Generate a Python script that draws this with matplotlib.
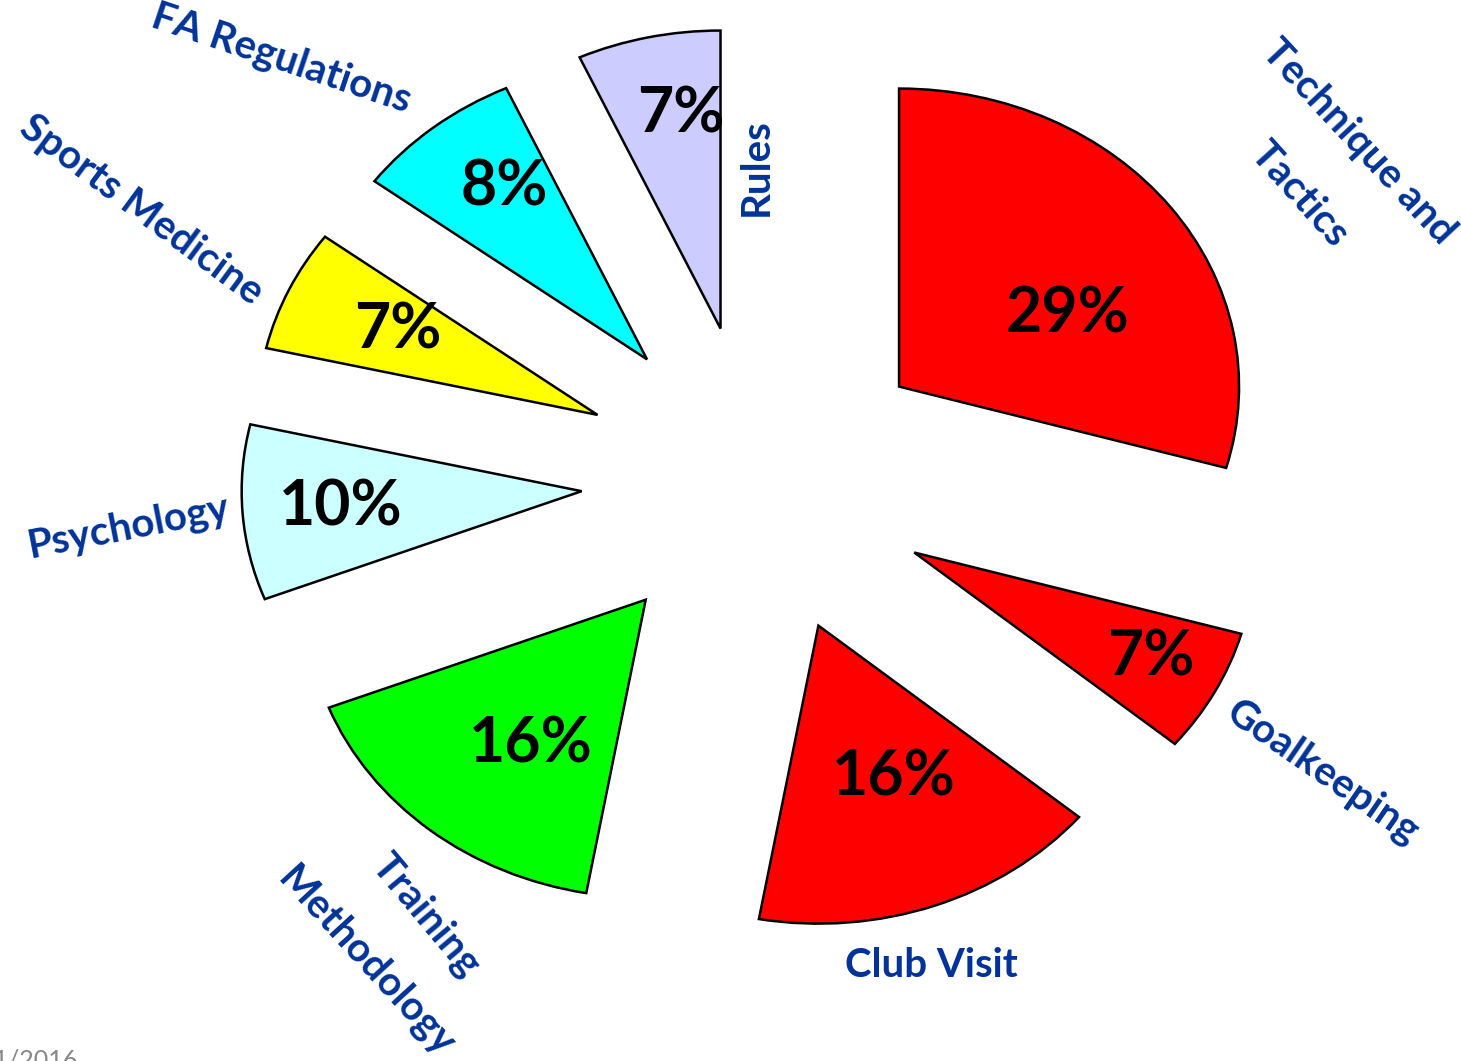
import matplotlib.pyplot as plt

# slice data, clockwise from 12 o'clock (shares measured off the wedges)
topics = ['Technique and\nTactics', 'Goalkeeping', 'Club Visit', 'Training\nMethodology',
          'Psychology', 'Sports Medicine', 'FA Regulations', 'Rules']
shares = [29.4, 6.7, 16.7, 16.3, 9.5, 6.6, 8.0, 6.8]
pct_labels = ['29%', '7%', '16%', '16%', '10%', '7%', '8%', '7%']
colors = ['#FF0000', '#FF0000', '#FF0000', '#00FF00',
          '#CCFFFF', '#FFFF00', '#00FFFF', '#CCCCFF']

# layout (data units; centre of pie at 0,0)
pct_pos = [(0.909, 0.557), (1.156, -0.594), (0.400, -0.997), (-0.668, -0.886),
           (-1.226, -0.091), (-1.059, 0.503), (-0.747, 0.980), (-0.226, 1.228)]
name_lines = [  # (text, x, y, rotation)
    ('Technique and', 1.765, 1.134, -47),
    ('Tactics', 1.591, 0.960, -48),
    ('Goalkeeping', 1.662, -0.980, -34.5),
    ('Club Visit', 0.509, -1.628, 0),
    ('Training', -0.976, -1.460, -50),
    ('Methodology', -1.153, -1.617, -47.5),
    ('Psychology', -1.850, -0.158, 11),
    ('Sports Medicine', -1.815, 0.906, -36.5),
    ('FA Regulations', -1.403, 1.413, -18.6),
    ('Rules', -0.006, 1.050, 90),
]

plt.rcParams['font.family'] = ['Lato', 'DejaVu Sans']

fig = plt.figure(figsize=(14.61, 10.61), dpi=100)
ax = fig.add_axes([0, 0, 1, 1])
ax.pie(shares, colors=colors, startangle=90, counterclock=False,
       explode=[0.52] * len(shares), radius=1.0,
       wedgeprops=dict(edgecolor='black', linewidth=1.8, joinstyle='miter'))
ax.set_aspect('auto')
# centre at pixel (758, 480), rx=340 px, ry=298 px
cx, cy = 758, 480
ax.set_xlim(-cx / 340, (1461 - cx) / 340)
ax.set_ylim(-(1061 - cy) / 298, cy / 298)
ax.axis('off')

for lab, (x, y) in zip(pct_labels, pct_pos):
    ax.text(x, y, lab, ha='center', va='center', fontsize=45,
            fontweight='bold', color='black')

for txt, x, y, rot in name_lines:
    ax.text(x, y, txt, ha='center', va='center', rotation=rot,
            rotation_mode='anchor', fontsize=29, fontweight='bold',
            color='#003399')

fig.text(78 / 1461, 1 - 1049 / 1061, '11/2016', ha='right', va='top',
         fontsize=18, color='#888888')

fig.savefig('out.png', dpi=100)
